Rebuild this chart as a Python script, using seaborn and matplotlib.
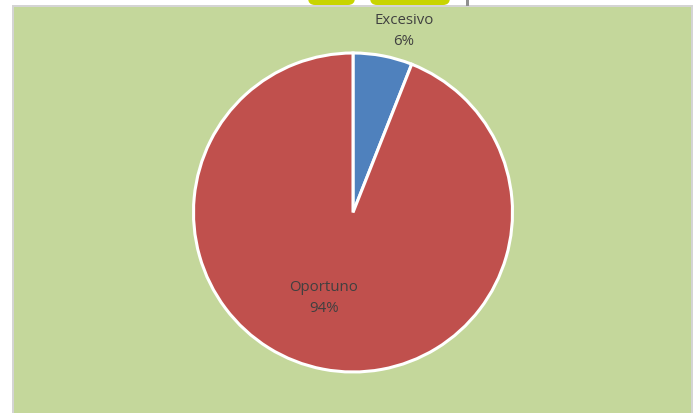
import matplotlib
matplotlib.use("Agg")
import matplotlib.pyplot as plt
from matplotlib.patches import Rectangle, FancyBboxPatch
import seaborn as sns

categories = ["Excesivo", "Oportuno"]
values = [6, 94]
colors = ["#4f81bd", "#c0504d"]

sns.set_style("white")
plt.rcParams['font.family'] = ['Open Sans', 'DejaVu Sans']

fig = plt.figure(figsize=(6.93, 4.14), dpi=100)
fig.patch.set_facecolor("white")
ax = fig.add_axes([0, 0, 1, 1])
ax.set_xlim(0, 693)
ax.set_ylim(0, 414)
ax.axis("off")

# background panel with light gray border (left/top/right)
ax.add_patch(Rectangle((12, 0), 682, 408, facecolor="#d4d4d4", edgecolor="none", zorder=0))
ax.add_patch(Rectangle((14, 0), 677, 406, facecolor="#c4d79b", edgecolor="none", zorder=0))

# partial logo at top
ax.add_patch(FancyBboxPatch((308, 408), 47, 14, boxstyle="round,pad=0,rounding_size=7",
                            facecolor="#c8d400", edgecolor="none", zorder=1, clip_on=False))
ax.add_patch(FancyBboxPatch((370, 408), 80, 14, boxstyle="round,pad=0,rounding_size=7",
                            facecolor="#c8d400", edgecolor="none", zorder=1, clip_on=False))
ax.add_patch(Rectangle((466, 407), 3, 10, facecolor="#909090", edgecolor="none", zorder=1))

wedges, _ = ax.pie(values, colors=colors, startangle=90, counterclock=False,
                   center=(353, 200.5), radius=159.5, frame=True,
                   wedgeprops=dict(edgecolor="white", linewidth=2.2))
ax.set_xlim(0, 693)
ax.set_ylim(0, 414)
ax.axis("off")
ax.set_aspect("equal")

total = sum(values)
label_pos = [(404, 383), (324, 116)]
for cat, v, (x, y) in zip(categories, values, label_pos):
    ax.text(x, y, f"{cat}\n{round(100 * v / total)}%", ha="center", va="center",
            fontsize=10.8, color="#404040", linespacing=1.55)

fig.savefig("out.png", dpi=100)
